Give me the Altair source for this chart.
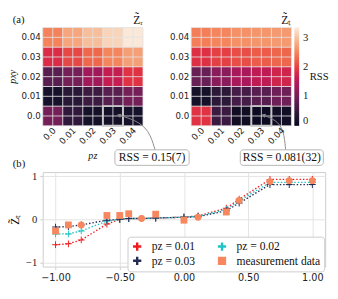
import altair as alt
import pandas as pd

# ---------------- data: heatmaps (rows: p_xy = 0.0 ... 0.04, columns: p_z = 0.0 ... 0.04)
pz_vals = [0.0, 0.01, 0.02, 0.03, 0.04]
pxy_vals = [0.0, 0.01, 0.02, 0.03, 0.04]
rss_R = [
    [1.00, 0.44, 0.18, 0.15, 0.20],
    [0.20, 0.37, 0.54, 0.77, 1.00],
    [0.77, 1.00, 1.34, 1.64, 1.90],
    [1.84, 2.04, 2.28, 2.50, 2.70],
    [2.48, 2.75, 2.95, 3.15, 3.32],
]
rss_T = [
    [1.90, 0.52, 0.12, 0.081, 0.13],
    [0.18, 0.40, 0.62, 0.78, 0.95],
    [0.90, 1.17, 1.40, 1.58, 1.74],
    [1.88, 1.98, 2.08, 2.18, 2.26],
    [2.45, 2.50, 2.58, 2.62, 2.65],
]
rss_max = 3.35
rss_ticks = [0, 1, 2, 3]
cell_grid = [-0.005, 0.0, 0.005, 0.01, 0.015, 0.02, 0.025, 0.03, 0.035, 0.04, 0.045]
tick_vals = [0.0, 0.01, 0.02, 0.03, 0.04]
tick_text = ["0.0", "0.01", "0.02", "0.03", "0.04"]
highlight_pz = 0.03
highlight_pxy = 0.0
titles = ["Z\u0303\u1d63", "Z\u0303\u209c"]
axis_titles = ["pz", "pxy"]
rss_labels = ["RSS = 0.15(7)", "RSS = 0.081(32)"]
# annotation geometry (in heatmap data units, relative to each panel)
arrow_x = [[0.033, 0.041, 0.048, 0.051], [0.031, 0.0373, 0.0412, 0.0421]]
arrow_y = [[0.0004, -0.002, -0.007, -0.0172], [0.0004, -0.002, -0.007, -0.0172]]
boxes = [[0.031, 0.068, -0.0172, -0.0251], [0.0195, 0.0609, -0.0172, -0.0251]]

# ---------------- data: line chart
angles = [-1.0, -0.9, -0.8, -0.6, -0.5, -0.43, -0.33, -0.22, 0.0, 0.11, 0.33, 0.43, 0.67, 0.82, 1.0]
z_p01 = [-0.59, -0.57, -0.48, -0.11, 0.00, 0.02, 0.02, 0.03, 0.05, 0.08, 0.26, 0.47, 0.93, 0.93, 0.93]
z_p02 = [-0.34, -0.34, -0.27, -0.04, 0.00, 0.02, 0.02, 0.03, 0.05, 0.07, 0.23, 0.43, 0.86, 0.86, 0.86]
z_p03 = [-0.18, -0.17, -0.13, -0.02, 0.00, 0.02, 0.02, 0.03, 0.05, 0.06, 0.20, 0.38, 0.81, 0.81, 0.81]
meas_y = [-0.27, -0.13, -0.13, 0.09, 0.09, 0.13, 0.02, 0.12, -0.02, 0.05, 0.17, 0.44, 0.88, 0.90, 0.90]
meas_err = [0.05, 0.07, 0.04, 0.04, 0.04, 0.04, 0.03, 0.04, 0.03, 0.03, 0.04, 0.04, 0.04, 0.03, 0.03]
meas_marker = ["square", "square", "circle", "square", "square", "square", "circle", "square",
               "square", "circle", "square", "circle", "circle", "circle", "circle"]
series_names = ["pz = 0.01", "pz = 0.02", "pz = 0.03", "measurement data"]
series_colors = ["#f01c1c", "#1ec4c4", "#262c55", "#f7875f"]
legend_order = [0, 2, 1, 3]   # column-major legend: 0.01/0.03 | 0.02/measurement
x_ticks = [-1.0, -0.75, -0.5, -0.25, 0.0, 0.25, 0.5, 0.75, 1.0]
y_ticks = [-1, 0, 1]

rocket = ["#03051a", "#35193e", "#701f57", "#ad1759", "#e13342", "#f37651", "#f6b48f", "#faebdd"]
SERIF = "Liberation Serif"
SANS = "DejaVu Sans"
PLUS = "M-1,-0.14H-0.14V-1H0.14V-0.14H1V0.14H0.14V1H-0.14V0.14H-1Z"
GRIDC = "#e4e4e4"

# layout constants for the two heatmap panels drawn side by side in one view
D = 0.074          # horizontal offset of the second panel, data units
HALF = 0.005
PX_PER_UNIT = 2080
HH = 102
TOP_W = int(round((0.045 + D + HALF) * PX_PER_UNIT))

xs = alt.Scale(domain=[-HALF, 0.045 + D], nice=False, zero=False)
ys = alt.Scale(domain=[-HALF, 0.045], nice=False, zero=False)


def X(f):
    return alt.X(f, scale=xs, axis=None)


def Y(f):
    return alt.Y(f, scale=ys, axis=None)


# cells
cell_rows = []
for p, vals in enumerate([rss_R, rss_T]):
    for i, pxy in enumerate(pxy_vals):
        for j, pz in enumerate(pz_vals):
            cell_rows.append({"px": pz + p * D, "py": pxy, "rss": vals[i][j]})
cells_df = pd.DataFrame(cell_rows)

cleg = alt.Legend(orient="none", legendX=TOP_W + 3, legendY=0, direction="vertical",
                  gradientLength=HH, gradientThickness=5, gradientStrokeColor="#cccccc",
                  values=rss_ticks, labelFont=SERIF, labelFontSize=11, labelColor="#222222",
                  labelOffset=4, title=None)

cells = alt.Chart(cells_df).transform_calculate(
    x0="datum.px - %f" % HALF, x1="datum.px + %f" % HALF,
    y0="datum.py - %f" % HALF, y1="datum.py + %f" % HALF
).mark_rect().encode(
    x=X("x0:Q"), x2="x1:Q", y=Y("y0:Q"), y2="y1:Q",
    color=alt.Color("rss:Q", scale=alt.Scale(domain=[0, rss_max], range=rocket), legend=cleg),
)

# grid lines on each panel
vg = pd.DataFrame([{"x0": g + p * D, "y0": -HALF, "y1": 0.045} for p in range(2) for g in cell_grid])
hg = pd.DataFrame([{"x0": -HALF + p * D, "x1": 0.045 + p * D, "y0": g} for p in range(2) for g in cell_grid])
vgrid = alt.Chart(vg).mark_rule(color=GRIDC, strokeWidth=1, opacity=0.85).encode(
    x=X("x0:Q"), y=Y("y0:Q"), y2="y1:Q")
hgrid = alt.Chart(hg).mark_rule(color=GRIDC, strokeWidth=1, opacity=0.85).encode(
    x=X("x0:Q"), x2="x1:Q", y=Y("y0:Q"))

# highlighted cell
hl_df = pd.DataFrame([{"x0": highlight_pz - HALF + p * D, "x1": highlight_pz + HALF + p * D,
                       "y0": highlight_pxy - HALF, "y1": highlight_pxy + HALF} for p in range(2)])
hl = alt.Chart(hl_df).mark_rect(fillOpacity=0, stroke="#c8c8c8", strokeWidth=2).encode(
    x=X("x0:Q"), x2="x1:Q", y=Y("y0:Q"), y2="y1:Q")

# arrows
arr_rows = []
for p in range(2):
    for k, (ax, ay) in enumerate(zip(arrow_x[p], arrow_y[p])):
        arr_rows.append({"x0": ax + p * D, "y0": ay, "ord": k, "panel": p})
arr_df = pd.DataFrame(arr_rows)
arc = alt.Chart(arr_df).mark_line(interpolate="basis", color="#8a8a8a", strokeWidth=1).encode(
    x=X("x0:Q"), y=Y("y0:Q"), order="ord:Q", detail="panel:N")
head = alt.Chart(arr_df[arr_df["ord"] == 0]).mark_point(
    shape="triangle-up", filled=True, size=22, angle=288, color="#8a8a8a", opacity=1).encode(
    x=X("x0:Q"), y=Y("y0:Q"))

# label boxes
box_df = pd.DataFrame([{"x0": b[0] + p * D, "x1": b[1] + p * D, "y0": b[2], "y1": b[3],
                        "label": rss_labels[p]} for p, b in enumerate(boxes)])
boxm = alt.Chart(box_df).mark_rect(fill="white", stroke="#b4b4b4", strokeWidth=1, cornerRadius=3).encode(
    x=X("x0:Q"), x2="x1:Q", y=Y("y0:Q"), y2="y1:Q")
txt = alt.Chart(box_df).transform_calculate(
    xc="(datum.x0 + datum.x1) / 2", yc="(datum.y0 + datum.y1) / 2"
).mark_text(font=SERIF, fontSize=12, color="#111111", baseline="middle").encode(
    x=X("xc:Q"), y=Y("yc:Q"), text="label:N")

# tick labels of both panels
ylab_df = pd.DataFrame([{"x0": p * D - HALF, "y0": v, "t": t}
                        for p in range(2) for v, t in zip(tick_vals, tick_text)])
ylab = alt.Chart(ylab_df).mark_text(font=SANS, fontSize=9, color="#222222", align="right",
                                    baseline="middle", dx=-2).encode(
    x=X("x0:Q"), y=Y("y0:Q"), text="t:N")
xlab_df = pd.DataFrame([{"x0": v + p * D + 0.0008, "y0": -HALF - 0.0016, "t": t}
                        for p in range(2) for v, t in zip(tick_vals, tick_text)])
xlab = alt.Chart(xlab_df).mark_text(font=SANS, fontSize=9, color="#222222", align="right",
                                    baseline="middle", angle=315).encode(
    x=X("x0:Q"), y=Y("y0:Q"), text="t:N")
# axis titles
axt_df = pd.DataFrame({"x0": [0.02, -HALF - 0.0146], "y0": [-0.0205, 0.02], "t": axis_titles,
                       "ang": [0, 270]})
axt = alt.Chart(axt_df).mark_text(font=SERIF, fontSize=10.5, fontStyle="italic", color="#111111",
                                  baseline="middle").encode(
    x=X("x0:Q"), y=Y("y0:Q"), text="t:N", angle=alt.Angle("ang:Q", scale=None))

# panel titles, colorbar title and panel tag
tt_df = pd.DataFrame({"x0": [0.045, 0.045 + D], "t": titles})
ttl = alt.Chart(tt_df).mark_text(font=SERIF, fontSize=12, color="#111111", align="right",
                                 baseline="middle").encode(
    x=X("x0:Q"), y=alt.value(-8), text="t:N")
rss_df = pd.DataFrame({"x0": [0.045 + D], "y0": [0.02], "t": ["RSS"]})
rsst = alt.Chart(rss_df).mark_text(font=SERIF, fontSize=11, color="#111111", align="left",
                                   baseline="middle", dx=19).encode(
    x=X("x0:Q"), y=Y("y0:Q"), text="t:N")
tag = alt.Chart(pd.DataFrame({"t": ["(a)"]})).mark_text(
    font=SERIF, fontSize=11, align="left", baseline="middle", color="#111111").encode(
    x=alt.value(-31), y=alt.value(-8), text="t:N")

top = alt.layer(cells, vgrid, hgrid, hl, arc, head, boxm, txt, ylab, xlab, axt, ttl, rsst, tag).properties(
    width=TOP_W, height=HH, view=alt.ViewConfig(stroke="transparent"))

# ---------------- line chart
rows_l = []
for name, ys_ in zip(series_names[:3], [z_p01, z_p02, z_p03]):
    for x, y in zip(angles, ys_):
        rows_l.append({"x": x, "y": y, "series": name})
lines_df = pd.DataFrame(rows_l)
meas_df = pd.DataFrame({"x": angles, "y": meas_y, "err": meas_err, "marker": meas_marker,
                        "series": series_names[3]})
pts_df = pd.concat([lines_df, meas_df[meas_df["marker"] == "square"][["x", "y", "series"]]],
                   ignore_index=True)
circ_df = meas_df[meas_df["marker"] == "circle"]

lxs = alt.Scale(domain=[-1.1, 1.1], nice=False, zero=False)
lys = alt.Scale(domain=[-1.1, 1.1], nice=False, zero=False)
shapes = [PLUS, PLUS, PLUS, "square"]
cscale = alt.Scale(domain=[series_names[k] for k in legend_order],
                   range=[series_colors[k] for k in legend_order])
sscale = alt.Scale(domain=[series_names[k] for k in legend_order],
                   range=[shapes[k] for k in legend_order])
lxaxis = alt.Axis(values=x_ticks, format=".2f", labelFont=SANS, labelFontSize=10, labelColor="#222222",
                  gridColor="#e3e3e3", domain=False, tickColor="#cccccc", tickSize=3, title=None,
                  labelPadding=3, labelOverlap=False)
lyaxis = alt.Axis(values=y_ticks, format="d", labelFont=SERIF, labelFontSize=11, labelColor="#222222",
                  gridColor="#e3e3e3", domain=False, tickColor="#cccccc", tickSize=3,
                  title="Z\u0303\u209c", titleFont=SERIF, titleFontSize=12, titleFontWeight="normal",
                  titlePadding=4, labelPadding=3)
leg = alt.Legend(orient="none", legendX=88, legendY=67, columns=2, title=None, fillColor="white",
                 strokeColor="#cccccc", cornerRadius=3, padding=4, labelFont=SERIF, labelFontSize=12,
                 labelColor="#111111", symbolSize=50, columnPadding=20, rowPadding=1, symbolOpacity=1,
                 labelOffset=9)

lines = alt.Chart(lines_df).mark_line(strokeDash=[1.5, 2], strokeWidth=1.4).encode(
    x=alt.X("x:Q", scale=lxs, axis=lxaxis), y=alt.Y("y:Q", scale=lys, axis=lyaxis),
    color=alt.Color("series:N", scale=cscale, legend=leg))
errs = alt.Chart(meas_df).transform_calculate(
    lo="datum.y - datum.err", hi="datum.y + datum.err"
).mark_rule(color=series_colors[3], strokeWidth=1.6).encode(
    x=alt.X("x:Q", scale=lxs), y=alt.Y("lo:Q", scale=lys), y2="hi:Q")
pts = alt.Chart(pts_df).mark_point(filled=True, size=50, opacity=1).encode(
    x=alt.X("x:Q", scale=lxs), y=alt.Y("y:Q", scale=lys),
    color=alt.Color("series:N", scale=cscale, legend=leg),
    shape=alt.Shape("series:N", scale=sscale, legend=leg))
circs = alt.Chart(circ_df).mark_point(filled=True, size=50, opacity=1, shape="circle",
                                      color=series_colors[3]).encode(
    x=alt.X("x:Q", scale=lxs), y=alt.Y("y:Q", scale=lys))
tagb = alt.Chart(pd.DataFrame({"t": ["(b)"]})).mark_text(
    font=SERIF, fontSize=11, align="left", baseline="middle", color="#111111").encode(
    x=alt.value(-31), y=alt.value(-8), text="t:N")
bottom = alt.layer(lines, errs, pts, circs, tagb).properties(
    width=293, height=98, view=alt.ViewConfig(stroke="#cccccc"))

chart = alt.vconcat(top, bottom, spacing=48, bounds="flush").properties(
    padding={"left": 0, "top": 0, "right": 0, "bottom": 0}
).resolve_scale(color="independent", shape="independent").configure(
    font=SANS).configure_axis(labelOverlap=False)

chart.save("out.html", embed_options={"renderer": "svg", "actions": False})
